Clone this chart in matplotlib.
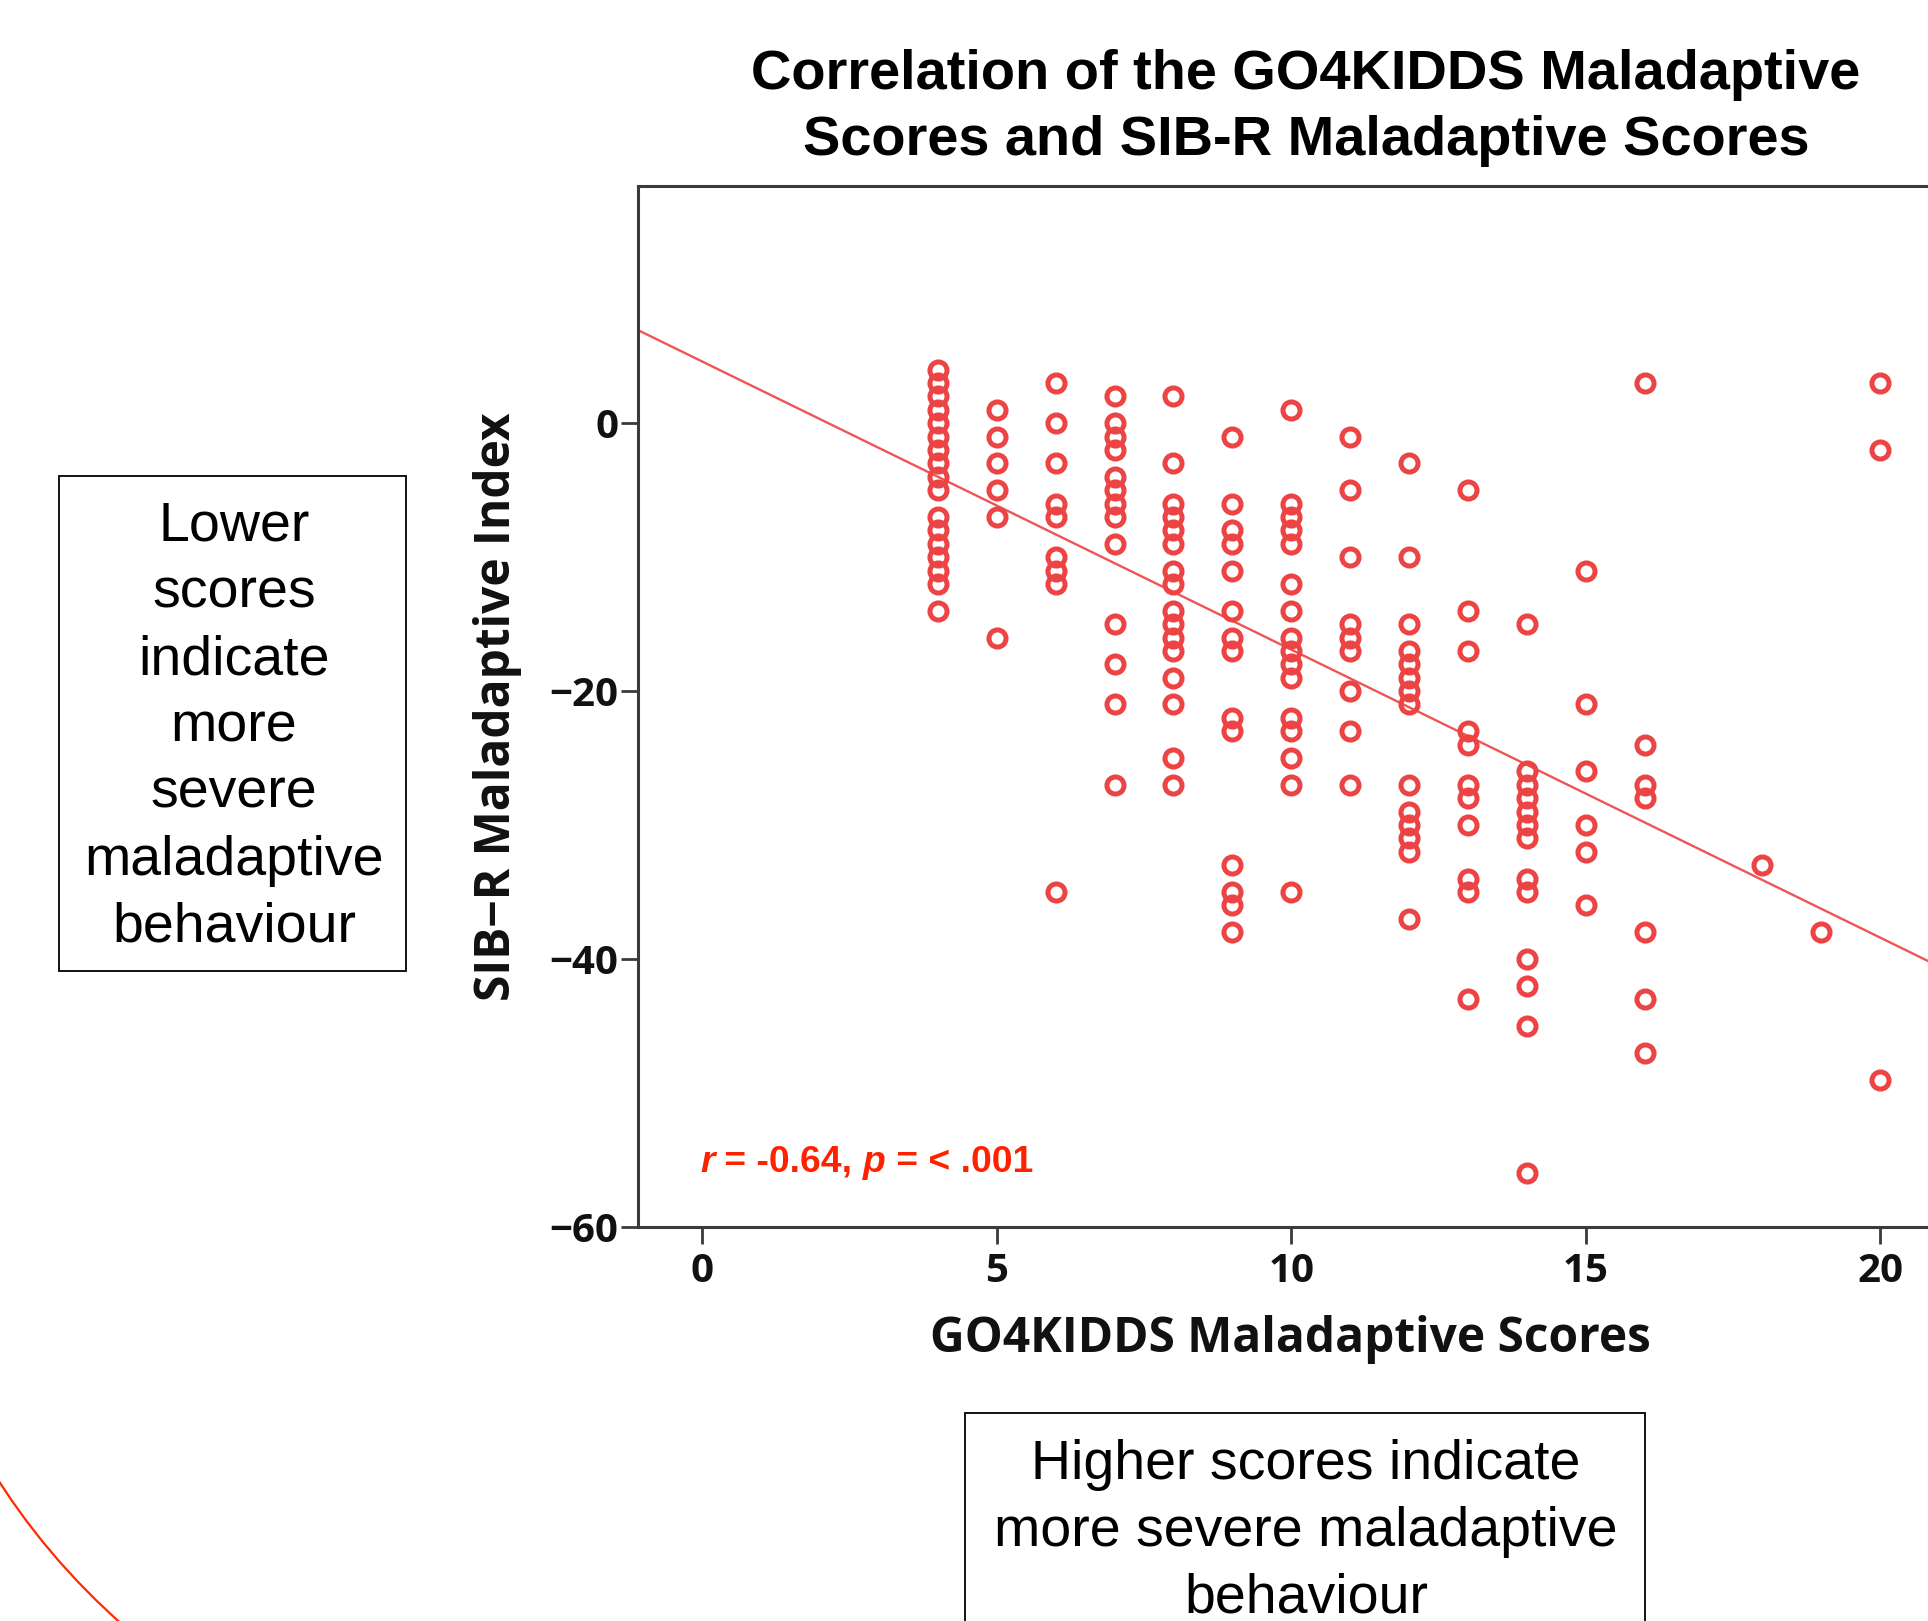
import matplotlib
matplotlib.use("Agg")
import matplotlib.pyplot as plt
import numpy as np
from matplotlib.patches import Rectangle, PathPatch
from matplotlib.path import Path
from matplotlib.offsetbox import TextArea, HPacker, AnchoredOffsetbox

# ---------------- data ----------------
go4kidds_4 = [4, 3, 2, 1, 0, -1, -2, -3, -4, -5, -7, -8, -9, -10, -11, -12, -14]
go4kidds_5 = [1, -1, -3, -5, -7, -16]
go4kidds_6 = [3, 0, -3, -6, -7, -10, -11, -12, -35]
go4kidds_7 = [2, 0, -1, -2, -4, -5, -6, -7, -9, -15, -18, -21, -27]
go4kidds_8 = [2, -3, -6, -7, -8, -9, -11, -12, -14, -15, -16, -17, -19, -21, -25, -27]
go4kidds_9 = [-1, -6, -8, -9, -11, -14, -16, -17, -22, -23, -33, -35, -36, -38]
go4kidds_10 = [1, -6, -7, -8, -9, -12, -14, -16, -17, -18, -19, -22, -23, -25, -27, -35]
go4kidds_11 = [-1, -5, -10, -15, -16, -17, -20, -23, -27]
go4kidds_12 = [-3, -10, -15, -17, -18, -19, -20, -21, -27, -29, -30, -31, -32, -37]
go4kidds_13 = [-5, -14, -17, -23, -24, -27, -28, -30, -34, -35, -43]
go4kidds_14 = [-15, -26, -27, -28, -29, -30, -31, -34, -35, -40, -42, -45, -56]
go4kidds_15 = [-11, -21, -26, -30, -32, -36]
go4kidds_16 = [3, -24, -27, -28, -38, -43, -47]
go4kidds_18 = [-33]
go4kidds_19 = [-38]
go4kidds_20 = [3, -2, -49]

sib_by_score = {
    4: go4kidds_4, 5: go4kidds_5, 6: go4kidds_6, 7: go4kidds_7, 8: go4kidds_8,
    9: go4kidds_9, 10: go4kidds_10, 11: go4kidds_11, 12: go4kidds_12,
    13: go4kidds_13, 14: go4kidds_14, 15: go4kidds_15, 16: go4kidds_16,
    18: go4kidds_18, 19: go4kidds_19, 20: go4kidds_20,
}

# fit line as drawn in the reference
fit_slope = -2.15
fit_intercept = 4.6

x_ticks = [0, 5, 10, 15, 20]
y_ticks = [0, -20, -40, -60]

title_text = "Correlation of the GO4KIDDS Maladaptive\nScores and SIB-R Maladaptive Scores"
xlabel_text = "GO4KIDDS Maladaptive Scores"
ylabel_text = "SIB\u2212R Maladaptive Index"
left_box_text = "Lower\nscores\nindicate\nmore\nsevere\nmaladaptive\nbehaviour"
bottom_box_text = "Higher scores indicate\nmore severe maladaptive\nbehaviour"

# ---------------- figure ----------------
W, H = 1928, 1621
DPI = 100
fig = plt.figure(figsize=(W / DPI, H / DPI), dpi=DPI)
fig.patch.set_facecolor("white")

def fx(px):
    return px / W

def fy(py):
    return 1 - py / H

x_min, x_max = -1.09, 21.6
y_min, y_max = -60, 17.7
px_per_x = 58.9
ax_left, ax_top, ax_bottom = 638, 186, 1227
ax_w_px = (x_max - x_min) * px_per_x
ax_h_px = ax_bottom - ax_top
ax = fig.add_axes([fx(ax_left), fy(ax_bottom), ax_w_px / W, ax_h_px / H])
ax.set_xlim(x_min, x_max)
ax.set_ylim(y_min, y_max)

xs = np.concatenate([[k] * len(v) for k, v in sib_by_score.items()])
ys = np.concatenate([v for v in sib_by_score.values()])

point_color = "#ec4444"
ax.plot(xs, ys, linestyle="none", marker="o", markersize=12.3,
        markerfacecolor="none", markeredgecolor=point_color,
        markeredgewidth=3.6, zorder=3, clip_on=False)

xl = np.array([x_min, x_max])
ax.plot(xl, fit_slope * xl + fit_intercept, color="#f05555", linewidth=1.7, zorder=2)

ax.spines["right"].set_visible(False)
for s in ["left", "top", "bottom"]:
    ax.spines[s].set_color("#3a3a3a")
    ax.spines[s].set_linewidth(2.2)

ax.set_xticks(x_ticks)
ax.set_yticks(y_ticks)
ax.set_xticklabels([str(t) for t in x_ticks])
ax.set_yticklabels([str(t).replace("-", "\u2212") for t in y_ticks])
ax.tick_params(axis="both", direction="out", length=12, width=2.0, color="#3a3a3a",
               labelsize=29, labelcolor="#111111")
ax.tick_params(axis="x", pad=6)
ax.tick_params(axis="y", pad=2)
for lab in ax.get_xticklabels() + ax.get_yticklabels():
    lab.set_fontfamily("Open Sans")
    lab.set_fontweight("bold")

ax.set_xlabel(xlabel_text, fontsize=34.5, fontfamily="Open Sans", fontweight="bold",
              color="#111111", va="center")
ax.xaxis.set_label_coords((1290 - ax_left) / ax_w_px, -(1339 - ax_bottom) / ax_h_px)
ax.set_ylabel(ylabel_text, fontsize=34.5, fontfamily="Open Sans", fontweight="bold",
              color="#111111", va="center")
ax.yaxis.set_label_coords((498 - ax_left) / ax_w_px, (ax_bottom - 707) / ax_h_px)

# correlation annotation
red = "#ff2200"
ann_font = dict(family="Liberation Sans", weight="bold", size=26.8, color=red)
parts = [
    TextArea("r", textprops=dict(ann_font, style="italic")),
    TextArea(" = -0.64, ", textprops=ann_font),
    TextArea("p", textprops=dict(ann_font, style="italic")),
    TextArea(" = < .001", textprops=ann_font),
]
box = HPacker(children=parts, align="baseline", pad=0, sep=0)
anc = AnchoredOffsetbox(loc="center left", child=box, pad=0, frameon=False,
                        bbox_to_anchor=(fx(700), fy(1162)),
                        bbox_transform=fig.transFigure, borderpad=0)
ax.add_artist(anc)

# title
fig.text(fx(1306), fy(108), title_text, ha="center", va="center",
         fontsize=40.3, fontweight="bold", family="Liberation Sans",
         linespacing=1.33, color="black")

# left box
fig.patches.append(Rectangle((fx(59), fy(971)), fx(406) - fx(59), fy(476) - fy(971),
                             transform=fig.transFigure, fill=False,
                             edgecolor="black", linewidth=1.3))
fig.text(fx(234), fy(727), left_box_text, ha="center", va="center",
         fontsize=40, family="Liberation Sans", linespacing=1.37, color="black")

# bottom box
fig.patches.append(Rectangle((fx(965), fy(1700)), fx(1645) - fx(965), fy(1413) - fy(1700),
                             transform=fig.transFigure, fill=False,
                             edgecolor="black", linewidth=1.3))
fig.text(fx(1306), fy(1532), bottom_box_text, ha="center", va="center",
         fontsize=40, family="Liberation Sans", linespacing=1.37, color="black")

# decorative red arc in the lower-left corner
arc_path = Path([(fx(-10), fy(1467)), (fx(44), fy(1556)), (fx(125), fy(1627))],
                [Path.MOVETO, Path.CURVE3, Path.CURVE3])
fig.patches.append(PathPatch(arc_path, transform=fig.transFigure, fill=False,
                             edgecolor="#ff2a00", linewidth=1.6))

fig.savefig("out.png", dpi=DPI)
